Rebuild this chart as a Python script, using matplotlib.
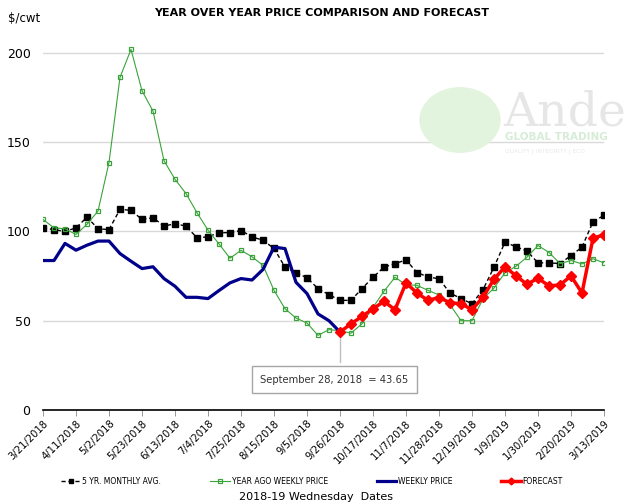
import matplotlib
matplotlib.use("Agg")
import matplotlib.pyplot as plt
import numpy as np

# weekly dates, 3/21/2018 .. 3/13/2019 (52 weeks); labels every 3rd week
tick_labels = ["3/21/2018", "4/11/2018", "5/2/2018", "5/23/2018", "6/13/2018", "7/4/2018",
               "7/25/2018", "8/15/2018", "9/5/2018", "9/26/2018", "10/17/2018", "11/7/2018",
               "11/28/2018", "12/19/2018", "1/9/2019", "1/30/2019", "2/20/2019", "3/13/2019"]

five_yr_avg = [102, 101, 100, 102, 108, 101.5, 101, 112.4, 111.8, 106.7, 107.7, 103, 104.3, 103,
               96.4, 97, 99.3, 99.3, 100.5, 97, 95, 90.5, 80, 77, 74, 68, 64.6, 61.4, 61.4, 68,
               74.3, 80, 82, 84, 77, 74.5, 73.5, 65.5, 62.4, 59.5, 67.4, 80, 94, 91.4, 89, 82.4,
               82.4, 82, 86.5, 91.2, 105.4, 109]

year_ago = [106.7, 102, 101.5, 98.3, 104, 111.4, 138.6, 186.3, 201.9, 178.8, 167.4, 139.6, 129.2,
            121.2, 110.5, 100.7, 93, 85, 89.4, 85.8, 81, 67, 56.7, 51.5, 48.7, 41.8, 45, 44.4, 43,
            48.3, 57.5, 66.5, 74.3, 70.2, 69.8, 67, 64.4, 59, 50, 50, 62.2, 68.3, 76.8, 80.5, 85.6,
            92.1, 88.2, 82, 83.7, 81.8, 84.7, 82.4]

weekly_price = [83.7, 83.7, 93.3, 89.5, 92.3, 94.6, 94.6, 87.6, 83.3, 79.2, 80.2, 73.6, 69.3, 63.1,
                63.1, 62.4, 66.9, 71.2, 73.6, 72.8, 78.7, 91.2, 90.4, 71.5, 65.2, 53.8, 50, 43.65]

forecast = [43.65, 48.3, 52.4, 56.7, 60.8, 56.2, 71.2, 65.5, 61.4, 63, 60.1, 59.5, 56.2, 63.2, 73.2,
            80.2, 75.1, 70.4, 73.8, 69.5, 70, 75.1, 65.5, 96.2, 98.1]
forecast_start = 27

weeks = np.arange(len(five_yr_avg))

fig = plt.figure(figsize=(6.24, 5.03), dpi=100)
ax = fig.add_axes([43 / 624, 93 / 503, 561 / 624, 375 / 503])

# faded logo watermark
logo = plt.Circle((460 / 624, 383 / 503), 0.064, transform=fig.transFigure,
                  color="#e2f3de", zorder=0)
fig.patches.append(logo)
fig.text(503 / 624, 378 / 503, "Ande", fontsize=34, family="DejaVu Serif", color="#e6e6e6",
         va="baseline", zorder=0)
fig.text(505 / 624, 363 / 503, "GLOBAL TRADING", fontsize=7.5, weight="bold", color="#d6ecd6",
         va="baseline", zorder=0)
fig.text(505 / 624, 350 / 503, "QUALITY | INTEGRITY | ECO", fontsize=4.2, color="#e8e8e8",
         va="baseline", zorder=0)

for v in [50, 100, 150, 200]:
    ax.axhline(v, color="#d9d9d9", lw=1.0, zorder=1)

ax.plot(weeks, five_yr_avg, color="black", ls=(0, (3, 2)), lw=1.0, marker="s", ms=4,
        label="5 YR. MONTHLY AVG.", zorder=3)
ax.plot(weeks, year_ago, color="#3aa33a", lw=0.8, marker="s", ms=3.5, mfc="none", mew=0.9,
        label="YEAR AGO WEEKLY PRICE", zorder=3)
ax.plot(weeks[:len(weekly_price)], weekly_price, color="#00008b", lw=2.3,
        label="WEEKLY PRICE", zorder=4)
ax.plot(weeks[forecast_start:forecast_start + len(forecast)], forecast, color="red", lw=2.5,
        marker="D", ms=5, label="FORECAST", zorder=5)

# callout for the last weekly price
ax.plot([forecast_start, forecast_start], [weekly_price[-1], 27], color="#bfbfbf", lw=1, zorder=2)
ax.text(forecast_start - 0.5, 17, "September 28, 2018  = 43.65", fontsize=7.2, ha="center",
        va="center", color="#333333", zorder=6,
        bbox=dict(boxstyle="square,pad=0.85", fc="white", ec="#a6a6a6", lw=1))

ax.set_xlim(0, len(weeks) - 1)
ax.set_ylim(0, 210)
ax.set_yticks([0, 50, 100, 150, 200])
ax.set_xticks(np.arange(0, len(weeks), 3))
ax.set_xticklabels(tick_labels, rotation=45, ha="right", rotation_mode="anchor", fontsize=7.2)
ax.tick_params(axis="y", length=0, pad=9, labelsize=9)
ax.tick_params(axis="x", length=4, width=0.6, color="#888888", pad=2)
for side in ["top", "right", "left"]:
    ax.spines[side].set_visible(False)
ax.spines["bottom"].set_linewidth(1.2)
ax.patch.set_alpha(0)

fig.text(8 / 624, 485 / 503, "$/cwt", fontsize=8.5, va="center")
fig.text(322 / 624, 490 / 503, "YEAR OVER YEAR PRICE COMPARISON AND FORECAST", fontsize=8,
         weight="bold", ha="center", va="center")

fig.legend(loc="center", bbox_to_anchor=(312 / 624, 22 / 503), ncol=4, frameon=False,
           fontsize=5.5, handlelength=2.6, handletextpad=0.2, columnspacing=6.4, markerscale=0.7)
fig.text(316 / 624, 6 / 503, "2018-19 Wednesday  Dates", fontsize=8, ha="center", va="center")

fig.savefig("out.png", dpi=100)
